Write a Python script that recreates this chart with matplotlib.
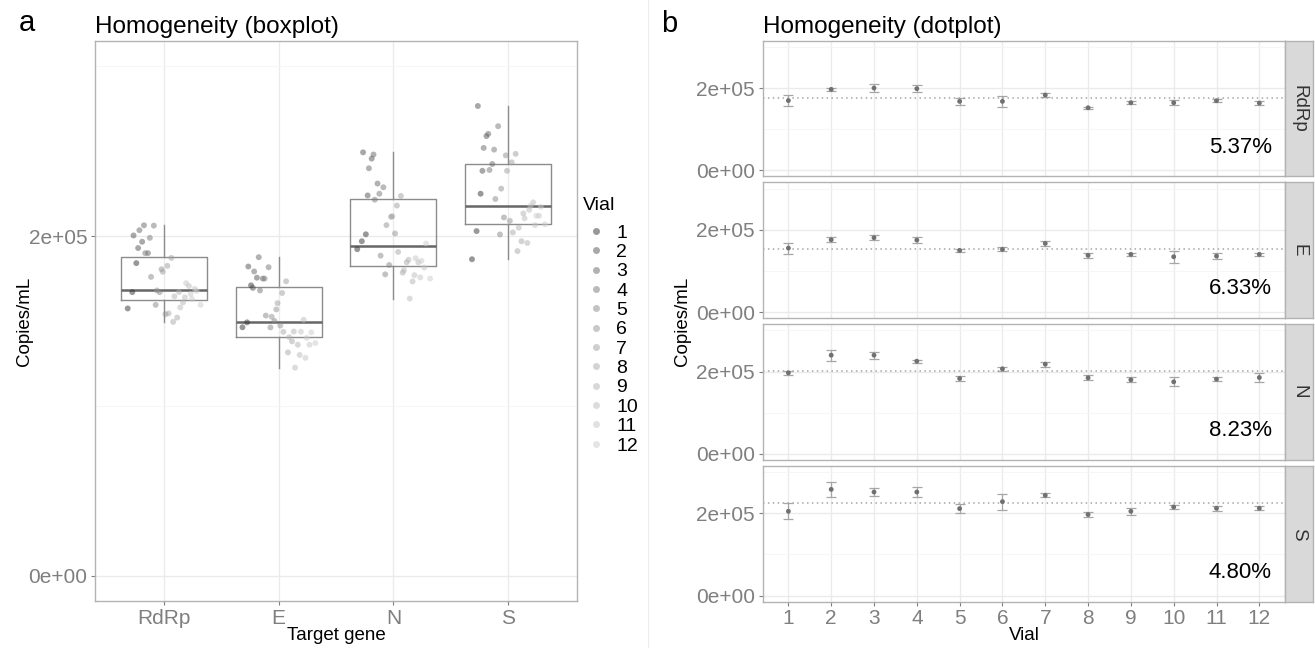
import numpy as np
import matplotlib
matplotlib.use("Agg")
import matplotlib.pyplot as plt
from matplotlib.lines import Line2D

plt.rcParams['font.family'] = ['Liberation Sans', 'DejaVu Sans']

# ---------------- data ----------------
genes = ["RdRp", "E", "N", "S"]
vials = [1, 2, 3, 4, 5, 6, 7, 8, 9, 10, 11, 12]

# three replicate measurements (copies/mL) per vial
rdrp_copies = [[157400, 167000, 184100], [193000, 196700, 200400], [190000, 203500, 206400],
               [190000, 199000, 206200], [159500, 167000, 176000], [154000, 168000, 180500],
               [179000, 182500, 187200], [149500, 152000, 154500], [161000, 164500, 167100],
               [158000, 164000, 170600], [166000, 169000, 172300], [159500, 163000, 167700]]
e_copies = [[146300, 149200, 171000], [169500, 175500, 182100], [175000, 179200, 187600],
            [168000, 175000, 181700], [146200, 150000, 153200], [147300, 152500, 156800],
            [160500, 166500, 173400], [131500, 138000, 143600], [136000, 140500, 143800],
            [122500, 130000, 150700], [128300, 136000, 143700], [137000, 140000, 143300]]
n_copies = [[192300, 197000, 201100], [224000, 245700, 249400], [231000, 240000, 248100],
            [221500, 225000, 228800], [177500, 183000, 188500], [201600, 206500, 211400],
            [211700, 218000, 223700], [178500, 184600, 190700], [173300, 180000, 186100],
            [163200, 177000, 184500], [175700, 181500, 187000], [175000, 185500, 195700]]
s_copies = [[186400, 203000, 225000], [238500, 259000, 276700], [242500, 252000, 260300],
            [239000, 251000, 264800], [201000, 211000, 221900], [209000, 228000, 247600],
            [238500, 243500, 248500], [191200, 197000, 202200], [196000, 205000, 213400],
            [210500, 215500, 219900], [206500, 212000, 217800], [207000, 212000, 217300]]

cv_labels = ["5.37%", "6.33%", "8.23%", "4.80%"]
y_ticks = [0, 200000]
y_tick_labels = ["0e+00", "2e+05"]
y_minor = [100000, 300000]

gene_data = [rdrp_copies, e_copies, n_copies, s_copies]

# ---------------- style ----------------
W, H = 1315, 648
fig = plt.figure(figsize=(W / 100, H / 100), dpi=100)


def rect(x0, y0, x1, y1):
    return [x0 / W, 1 - y1 / H, (x1 - x0) / W, (y1 - y0) / H]


GRID_MAJ = '#EBEBEB'
GRID_MIN = '#F5F5F5'
BORDER = '#B3B3B3'
TICKC = '#7F7F7F'
YLIM = (-15000, 315000)
TICK_FS = 15

grey_levels = np.linspace(0.2 ** 2.2, 0.8 ** 2.2, 12) ** (1 / 2.2)
vial_cols = [(g, g, g) for g in grey_levels]


def style_axes(ax):
    for s in ax.spines.values():
        s.set_color(BORDER)
        s.set_linewidth(1.0)
    ax.set_axisbelow(True)
    ax.set_facecolor('white')
    ax.tick_params(which='major', colors=TICKC, labelcolor=TICKC, length=3, width=0.8,
                   labelsize=TICK_FS, pad=2.5)
    ax.tick_params(which='minor', length=0)
    ax.set_ylim(*YLIM)
    ax.set_yticks(y_ticks)
    ax.set_yticklabels(y_tick_labels)
    ax.set_yticks(y_minor, minor=True)
    ax.grid(which='major', color=GRID_MAJ, lw=1.0)
    ax.grid(which='minor', axis='y', color=GRID_MIN, lw=0.6)


# ---------------- panel a ----------------
axL = fig.add_axes(rect(95, 41, 577, 601))
style_axes(axL)
axL.set_xlim(0.4, 4.6)
axL.set_xticks([1, 2, 3, 4])
axL.set_xticklabels(genes)

box_data = [np.array(d).ravel() for d in gene_data]
axL.boxplot(box_data, positions=[1, 2, 3, 4], widths=0.75, showfliers=False, whis=1.5,
            showcaps=False,
            boxprops=dict(color='#8C8C8C', lw=1.0),
            whiskerprops=dict(color='#8C8C8C', lw=1.0),
            medianprops=dict(color='#666666', lw=1.8),
            manage_ticks=False, zorder=2)

rep_jit = [-0.035, 0.005, 0.04]
for gi, d in enumerate(gene_data):
    for vi in range(12):
        dodge = (vi - 5.5) / 11 * 0.56
        for r in range(3):
            jx = rep_jit[(r + vi) % 3]
            axL.scatter(gi + 1 + dodge + jx, d[vi][r], s=18, color=vial_cols[vi],
                        alpha=0.5, edgecolors='none', zorder=3)

fig.text(95 / W, 1 - 33 / H, "Homogeneity (boxplot)", fontsize=17.5, va='baseline', ha='left')
fig.text(19 / W, 1 - 31 / H, "a", fontsize=21, va='baseline', ha='left')
fig.text(336 / W, 1 - 635 / H, "Target gene", fontsize=13.5, va='center', ha='center')
fig.text(25 / W, 1 - 321 / H, "Copies/mL", fontsize=13.5, va='center', ha='center', rotation=90)

handles = [Line2D([], [], marker='o', linestyle='none', markersize=5,
                  markerfacecolor=vial_cols[i], markeredgecolor='none', alpha=0.5)
           for i in range(12)]
leg = axL.legend(handles, [str(v) for v in vials], loc='upper left',
                 bbox_to_anchor=(583 / W, 1 - 224 / H), bbox_transform=fig.transFigure,
                 frameon=False, fontsize=14, handlelength=1.3,
                 handletextpad=0.4, labelspacing=0.09, borderpad=0, borderaxespad=0)
fig.text(583 / W, 1 - 205 / H, "Vial", fontsize=14, va='center', ha='left')

# ---------------- panel b ----------------
panel_h = 135.75
gap = 6.0
top0 = 40.7
for gi, (gene, d) in enumerate(zip(genes, gene_data)):
    top = top0 + gi * (panel_h + gap)
    ax = fig.add_axes(rect(762.7, top, 1285, top + panel_h))
    style_axes(ax)
    ax.set_xlim(0.4, 12.6)
    ax.set_xticks(vials)
    if gi == 3:
        ax.set_xticklabels([str(v) for v in vials])
    else:
        ax.tick_params(axis='x', labelbottom=False, length=0)
    arr = np.array(d, dtype=float)
    means = arr.mean(axis=1)
    sds = arr.std(axis=1, ddof=1)
    grand = arr.mean()
    ax.axhline(grand, color='#A6A6A6', lw=1.1, linestyle=(0, (1, 2.2)), zorder=2)
    ax.errorbar(vials, means, yerr=sds, fmt='none', ecolor='#A6A6A6', elinewidth=0.9,
                capsize=3.5, capthick=0.9, zorder=3)
    ax.scatter(vials, means, s=12, color='#707070', edgecolors='none', zorder=4)
    ax.text(0.9745, 0.176, cv_labels[gi], transform=ax.transAxes, ha='right',
            va='baseline', fontsize=16, color='black')
    # facet strip
    sax = fig.add_axes(rect(1285, top, 1313, top + panel_h))
    sax.set_facecolor('#D9D9D9')
    for s in sax.spines.values():
        s.set_color(BORDER)
        s.set_linewidth(1.0)
    sax.set_xticks([])
    sax.set_yticks([])
    sax.text(0.5, 0.5, gene, transform=sax.transAxes, rotation=-90, ha='center',
             va='center', fontsize=13.5, color='#333333')

fig.text(763.3 / W, 1 - 33 / H, "Homogeneity (dotplot)", fontsize=17.5, va='baseline', ha='left')
fig.text(661 / W, 1 - 31.5 / H, "b", fontsize=21, va='baseline', ha='left')
fig.text(1024 / W, 1 - 636 / H, "Vial", fontsize=13.5, va='center', ha='center')
fig.text(683 / W, 1 - 321 / H, "Copies/mL", fontsize=13.5, va='center', ha='center', rotation=90)

# faint separator between panels
fig.add_artist(Line2D([648 / W, 648 / W], [0, 1], color='#EDEDED', lw=0.8,
                      transform=fig.transFigure))

fig.savefig("out.png", dpi=100)
